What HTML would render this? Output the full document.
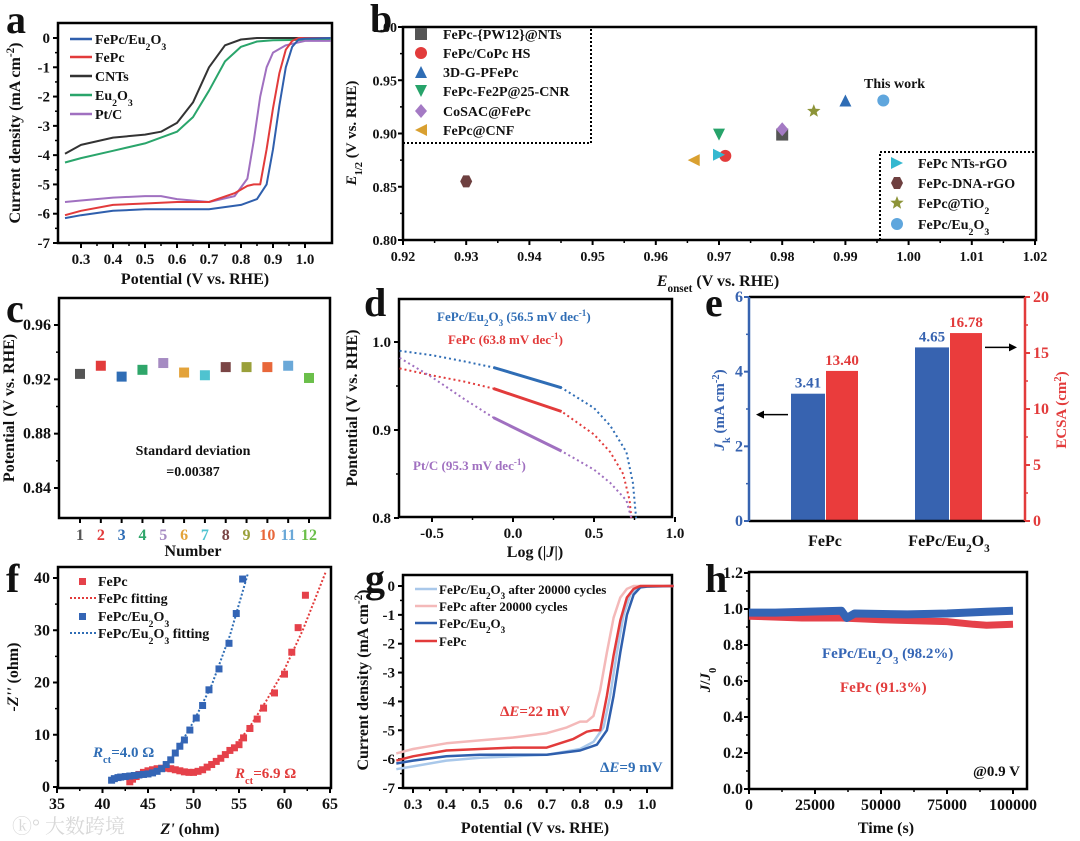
<!DOCTYPE html>
<html><head><meta charset="utf-8"><title>ORR performance figure</title>
<style>
html,body{margin:0;padding:0;background:#fff;}
svg{display:block;font-family:"Liberation Serif","Noto Serif CJK SC",serif;font-weight:bold;}
</style></head>
<body>
<svg id="fig" width="1080" height="841" viewBox="0 0 1080 841" xmlns="http://www.w3.org/2000/svg"></svg>
<script>
// ---------- DATA ----------
const aBlueV=[0.25,0.3,0.4,0.5,0.6,0.7,0.8,0.85,0.88,0.9,0.92,0.94,0.96,0.98,1.0,1.08];
const aBlueJ=[-6.15,-6.05,-5.9,-5.85,-5.85,-5.85,-5.7,-5.5,-5.0,-3.8,-2.3,-1.0,-0.3,-0.05,-0.02,0];
const aRedV=[0.25,0.3,0.4,0.5,0.6,0.7,0.78,0.82,0.84,0.86,0.88,0.9,0.92,0.94,0.96,0.98,1.08];
const aRedJ=[-6.05,-5.9,-5.7,-5.65,-5.6,-5.6,-5.3,-5.05,-5.0,-5.0,-3.8,-2.4,-1.2,-0.4,-0.1,0,0];
const aCntV=[0.25,0.3,0.4,0.5,0.55,0.6,0.65,0.7,0.75,0.8,0.85,1.08];
const aCntJ=[-3.95,-3.65,-3.4,-3.3,-3.2,-2.9,-2.2,-1.0,-0.25,-0.05,0,0];
const aEuV=[0.25,0.3,0.4,0.5,0.6,0.65,0.7,0.75,0.8,0.85,0.9,1.08];
const aEuJ=[-4.25,-4.1,-3.85,-3.6,-3.2,-2.7,-1.8,-0.8,-0.3,-0.12,-0.08,-0.05];
const aPtV=[0.25,0.3,0.4,0.5,0.55,0.6,0.7,0.78,0.82,0.84,0.86,0.88,0.9,0.94,1.0,1.08];
const aPtJ=[-5.6,-5.55,-5.45,-5.4,-5.4,-5.5,-5.6,-5.4,-4.8,-3.5,-2.0,-1.0,-0.5,-0.25,-0.1,-0.1];
const bNames=["FePc-{PW12}@NTs","FePc/CoPc HS","3D-G-PFePc","FePc-Fe2P@25-CNR","CoSAC@FePc","FePc@CNF","FePc NTs-rGO","FePc-DNA-rGO","FePc@TiO2","FePc/Eu2O3"];
const bOnset=[0.98,0.971,0.99,0.97,0.98,0.966,0.97,0.93,0.985,0.996];
const bHalf=[0.899,0.879,0.931,0.899,0.904,0.875,0.88,0.855,0.921,0.931];
const cNum=[1,2,3,4,5,6,7,8,9,10,11,12];
const cVal=[0.924,0.930,0.922,0.927,0.932,0.925,0.923,0.929,0.929,0.929,0.930,0.921];
const dBlueX=[-0.7,-0.5,-0.3,-0.12,0.3,0.5,0.6,0.7,0.74,0.76];
const dBlueY=[0.99,0.985,0.978,0.971,0.948,0.925,0.905,0.875,0.84,0.8];
const dRedX=[-0.7,-0.5,-0.3,-0.12,0.3,0.5,0.6,0.68,0.72,0.73];
const dRedY=[0.97,0.962,0.955,0.947,0.921,0.895,0.875,0.85,0.82,0.8];
const dPtX=[-0.7,-0.5,-0.3,-0.12,0.3,0.5,0.6,0.7,0.73];
const dPtY=[0.982,0.96,0.935,0.914,0.876,0.855,0.84,0.82,0.8];
const dFitRange=[-0.12,0.3];
const eCats=["FePc","FePc/Eu2O3"];
const eJk=[3.41,4.65];
const eEcsa=[13.40,16.78];
const fRedX=[43,43.3,43.7,44,44.5,45,45.5,46,46.5,47,47.5,48,48.5,49,49.5,50,50.5,51,51.5,52,52.5,53,53.5,54,54.5,55,55.5,56.2,57,57.7,58.9,60,60.8,61.5,62.3];
const fRedY=[1.0,1.5,2.0,2.4,2.8,3.1,3.3,3.5,3.6,3.6,3.5,3.3,3.1,2.9,2.8,2.8,3.0,3.3,3.8,4.3,4.9,5.5,6.2,7.0,7.5,8.1,9.4,11.2,13,15.1,18,21.6,25.8,30.5,36.7];
const fBlueX=[41,41.3,41.7,42,42.5,43,43.5,44,44.5,45,45.5,46,46.5,47,47.5,48,48.5,49,49.6,50.3,51,51.7,52.8,53.9,54.7,55.4];
const fBlueY=[1.3,1.6,1.8,1.9,2.0,2.1,2.2,2.3,2.4,2.5,2.7,3.0,3.5,4.3,5.2,6.5,7.8,9.0,10.9,13.2,15.6,18.6,22.6,27.5,33.2,39.8];
const fRedFitX=[43,45,47,49,50.5,52,54,56,58,60,62,64.5];
const fRedFitY=[1,3.2,3.6,3.0,2.9,4.0,6.8,11,16.5,22.5,30,41];
const fBlueFitX=[41,43,45,46.5,48,50,52,54,56];
const fBlueFitY=[1.3,2.1,2.6,3.4,6.5,12.5,19.5,29,41];
const gBlueV=aBlueV;
const gBlueJ=aBlueJ;
const gRedV=aRedV;
const gRedJ=aRedJ;
const gBlueAV=[0.25,0.3,0.4,0.5,0.6,0.7,0.8,0.84,0.87,0.89,0.91,0.93,0.95,0.97,0.99,1.08];
const gBlueAJ=[-6.35,-6.25,-6.05,-5.95,-5.9,-5.85,-5.65,-5.4,-4.9,-3.8,-2.3,-1.0,-0.3,-0.05,0,0];
const gRedAV=[0.25,0.3,0.4,0.5,0.6,0.7,0.76,0.8,0.82,0.84,0.86,0.88,0.9,0.92,0.94,0.96,1.08];
const gRedAJ=[-5.8,-5.65,-5.45,-5.35,-5.25,-5.1,-4.9,-4.7,-4.7,-4.5,-3.6,-2.3,-1.1,-0.4,-0.1,0,0];
const hBlueT=[0,10000,35000,37000,40000,60000,75000,90000,100000];
const hBlueR=[0.98,0.98,0.99,0.95,0.975,0.97,0.975,0.985,0.99];
const hRedT=[0,20000,35000,50000,75000,85000,90000,100000];
const hRedR=[0.96,0.95,0.95,0.94,0.93,0.915,0.91,0.915];

// ---------- HELPERS ----------
const NS='http://www.w3.org/2000/svg';
const svg=document.getElementById('fig');
function el(tag,attrs,name,parent){
  const e=document.createElementNS(NS,tag);
  for(const k in attrs) e.setAttribute(k,attrs[k]);
  
  
  (parent||svg).appendChild(e);
  return e;
}
function txt(x,y,html,name,o){
  o=o||{};
  const t=el('text',{x:x,y:y,'font-size':o.size||15,fill:o.fill||'#111','text-anchor':o.anchor||'start'},name);
  if(o.rot) t.setAttribute('transform','rotate('+o.rot+' '+x+' '+y+')');
  if(o.weight) t.setAttribute('font-weight',o.weight);
  t.innerHTML=html;
  return t;
}
const SUB=s=>'<tspan baseline-shift="sub" font-size="0.7em">'+s+'</tspan>';
const SUP=s=>'<tspan baseline-shift="super" font-size="0.7em">'+s+'</tspan>';
function lin(d0,d1,r0,r1){return v=>r0+(v-d0)*(r1-r0)/(d1-d0);}
function frame(p,b){el('rect',{x:b.x0,y:b.y0,width:b.x1-b.x0,height:b.y1-b.y0,fill:'none',stroke:'#000','stroke-width':2.5},p+'-plot-frame');}
function xAxis(p,b,sx,vals,labels,o){
  o=o||{};
  vals.forEach((v,i)=>{
    const x=sx(v);
    el('line',{x1:x,x2:x,y1:b.y1,y2:b.y1+5,stroke:'#000','stroke-width':2},p+'-x-tick');
    txt(x,b.y1+21,labels[i],p+'-x-tick-label',{anchor:'middle',size:o.size||15,fill:o.colors?o.colors[i]:'#111'});
    if(o.minor!==false && i<vals.length-1){const xm=sx((v+vals[i+1])/2);
      el('line',{x1:xm,x2:xm,y1:b.y1,y2:b.y1+3,stroke:'#000','stroke-width':1.5},p+'-x-minor-tick');}
  });
}
function yAxis(p,b,sy,vals,labels,o){
  o=o||{};
  const right=o.right; const x=right?b.x1:b.x0; const d=right?1:-1;
  vals.forEach((v,i)=>{
    const y=sy(v);
    el('line',{x1:x,x2:x+5*d,y1:y,y2:y,stroke:o.color||'#000','stroke-width':2},p+'-y-tick');
    txt(x+(o.gap||8)*d,y+5,labels[i],p+'-y-tick-label',{anchor:right?'start':'end',size:o.size||15,fill:o.color||'#111'});
    if(o.minor!==false && i<vals.length-1){const ym=sy((v+vals[i+1])/2);
      el('line',{x1:x,x2:x+3*d,y1:ym,y2:ym,stroke:o.color||'#000','stroke-width':1.5},p+'-y-minor-tick');}
  });
}
function path(xs,ys,sx,sy,attrs,name){
  let d='';
  xs.forEach((v,i)=>{d+=(i?'L':'M')+sx(v).toFixed(1)+','+sy(ys[i]).toFixed(1);});
  const a=Object.assign({d:d,fill:'none','stroke-linejoin':'round'},attrs);
  return el('path',a,name);
}
function range(a,b,s){const r=[];for(let v=a;v<=b+1e-9;v+=s)r.push(+v.toFixed(6));return r;}
function letter(x,y,s){txt(x,y,s,'panel-label-'+s,{size:40});}

const BLUE='#2f5fad', RED='#e23b3b', BLACK='#333', GREEN='#2aa56b', PURPLE='#a070c0';

// ---------- PANEL A ----------
(function(){
  const b={x0:58,x1:332,y0:23,y1:243};
  const sx=lin(0.3,1.0,81,305), sy=lin(0,-7,38,243);
  letter(6,33,'a');
  frame('a',b);
  const xv=range(0.3,1.0,0.1); xAxis('a',b,sx,xv,xv.map(v=>v.toFixed(1)));
  const yv=range(-7,0,1).reverse(); yAxis('a',b,sy,yv,yv.map(v=>String(v)));
  path(aCntV,aCntJ,sx,sy,{stroke:BLACK,'stroke-width':2},'a-cnts-curve');
  path(aEuV,aEuJ,sx,sy,{stroke:GREEN,'stroke-width':2},'a-eu2o3-curve');
  path(aPtV,aPtJ,sx,sy,{stroke:PURPLE,'stroke-width':2},'a-ptc-curve');
  path(aRedV,aRedJ,sx,sy,{stroke:RED,'stroke-width':2},'a-fepc-curve');
  path(aBlueV,aBlueJ,sx,sy,{stroke:BLUE,'stroke-width':2},'a-fepc-eu2o3-curve');
  const lg=[['FePc/Eu'+SUB('2')+'O'+SUB('3'),BLUE],['FePc',RED],['CNTs',BLACK],['Eu'+SUB('2')+'O'+SUB('3'),GREEN],['Pt/C',PURPLE]];
  const ly=[39,57,76,95,114];
  lg.forEach((e,i)=>{
    el('line',{x1:70,x2:92,y1:ly[i],y2:ly[i],stroke:e[1],'stroke-width':2.5},'a-legend-swatch');
    txt(95,ly[i]+5,e[0],'a-legend-entry',{size:14});
  });
  txt(195,284,'Potential (V vs. RHE)','a-x-axis-title',{anchor:'middle',size:16});
  txt(20,133,'Current density (mA cm'+SUP('-2')+')','a-y-axis-title',{anchor:'middle',size:16,rot:-90});
})();

// ---------- PANEL B ----------
(function(){
  const b={x0:403,x1:1036,y0:27,y1:240};
  const sx=lin(0.92,1.02,403,1035), sy=lin(0.8,1.0,240,27);
  letter(370,32,'b');
  frame('b',b);
  const xv=range(0.92,1.02,0.01); xAxis('b',b,sx,xv,xv.map(v=>v.toFixed(2)),{size:14});
  const yv=range(0.8,1.0,0.05); yAxis('b',b,sy,yv,yv.map(v=>v.toFixed(2)),{size:14,gap:6});
  const cols=['#555',RED,'#2f6db5','#27a36a','#a47ac4','#d9a030','#35b8d0','#6e4040','#8d9438','#5fa6dd'];
  function marker(x,y,i,name){
    const c=cols[i], s=6;
    if(i===0) el('rect',{x:x-s,y:y-s,width:2*s,height:2*s,fill:c},name);
    else if(i===1||i===9) el('circle',{cx:x,cy:y,r:s,fill:c},name);
    else if(i===2) el('polygon',{points:`${x},${y-s} ${x+s},${y+s} ${x-s},${y+s}`,fill:c},name);
    else if(i===3) el('polygon',{points:`${x-s},${y-s} ${x+s},${y-s} ${x},${y+s}`,fill:c},name);
    else if(i===4) el('polygon',{points:`${x},${y-s-1} ${x+s},${y} ${x},${y+s+1} ${x-s},${y}`,fill:c},name);
    else if(i===5) el('polygon',{points:`${x-s},${y} ${x+s},${y-s} ${x+s},${y+s}`,fill:c},name);
    else if(i===6) el('polygon',{points:`${x+s},${y} ${x-s},${y-s} ${x-s},${y+s}`,fill:c},name);
    else if(i===7) el('polygon',{points:`${x-s},${y} ${x-s/2},${y-s} ${x+s/2},${y-s} ${x+s},${y} ${x+s/2},${y+s} ${x-s/2},${y+s}`,fill:c},name);
    else if(i===8){let p='';for(let k=0;k<10;k++){const r=k%2?3:7,a=-Math.PI/2+k*Math.PI/5;p+=(x+r*Math.cos(a)).toFixed(1)+','+(y+r*Math.sin(a)).toFixed(1)+' ';}
      el('polygon',{points:p,fill:c},name);}
  }
  bOnset.forEach((v,i)=>marker(sx(v),sy(bHalf[i]),i,'b-point-'+bNames[i].toLowerCase().replace(/[^a-z0-9]+/g,'-')));
  el('path',{d:'M403,143 L591,143 L591,27',fill:'none',stroke:'#000','stroke-width':2,'stroke-dasharray':'2,2'},'b-legend-box-left');
  el('path',{d:'M880,240 L880,152 L1036,152',fill:'none',stroke:'#000','stroke-width':2,'stroke-dasharray':'2,2'},'b-legend-box-right');
  const lab=['FePc-{PW12}@NTs','FePc/CoPc HS','3D-G-PFePc','FePc-Fe2P@25-CNR','CoSAC@FePc','FePc@CNF','FePc NTs-rGO','FePc-DNA-rGO','FePc@TiO'+SUB('2'),'FePc/Eu'+SUB('2')+'O'+SUB('3')];
  const ly=[34,53,72,91,111,130,163,183,203,224];
  lab.forEach((s,i)=>{
    const mx=i<6?421:897, tx=i<6?443:918;
    marker(mx,ly[i],i,'b-legend-marker');
    txt(tx,ly[i]+5,s,'b-legend-entry',{size:14});
  });
  txt(864,88,'This work','b-this-work-label',{size:14});
  txt(718,286,'<tspan font-style="italic">E</tspan>'+SUB('onset')+' (V vs. RHE)','b-x-axis-title',{anchor:'middle',size:16});
  txt(356,133,'<tspan font-style="italic">E</tspan>'+SUB('1/2')+' (V vs. RHE)','b-y-axis-title',{anchor:'middle',size:15,rot:-90});
})();

// ---------- PANEL C ----------
(function(){
  const b={x0:59,x1:330,y0:298,y1:518};
  const sx=lin(1,12,80,309), sy=lin(0.84,0.96,488,325);
  letter(6,322,'c');
  frame('c',b);
  const cols=['#555',RED,'#2f6db5','#2fa66a','#a58bc2','#e3a33a','#4fc3d0','#7a4545','#9aa03a','#e8673a','#6aa8d8','#6bbf4a'];
  cNum.forEach((n,i)=>{
    const x=sx(n);
    el('line',{x1:x,x2:x,y1:b.y1,y2:b.y1+5,stroke:'#000','stroke-width':2},'c-x-tick');
    txt(x,b.y1+22,String(n),'c-x-tick-label',{anchor:'middle',size:16,fill:cols[i]});
  });
  const yv=range(0.84,0.96,0.04); yAxis('c',b,sy,yv,yv.map(v=>v.toFixed(2)),{size:16});
  cNum.forEach((n,i)=>el('rect',{x:sx(n)-5,y:sy(cVal[i])-5,width:10,height:10,fill:cols[i]},'c-point-'+n));
  txt(193,455,'Standard deviation','c-std-label',{anchor:'middle',size:14});
  txt(193,476,'=0.00387','c-std-value',{anchor:'middle',size:14});
  txt(193,556,'Number','c-x-axis-title',{anchor:'middle',size:16});
  txt(14,408,'Potential (V vs. RHE)','c-y-axis-title',{anchor:'middle',size:16,rot:-90});
})();

// ---------- PANEL D ----------
(function(){
  const b={x0:399,x1:672,y0:299,y1:517};
  const sx=lin(0,0.5,513,594), sy=lin(0.8,1.0,518,342);
  letter(364,316,'d');
  frame('d',b);
  const xv=[-0.5,0,0.5,1.0]; xAxis('d',b,sx,xv,xv.map(v=>v.toFixed(1)));
  const yv=[0.8,0.9,1.0]; yAxis('d',b,sy,yv,yv.map(v=>v.toFixed(1)));
  const ser=[[dBlueX,dBlueY,'#2f6db5','blue'],[dRedX,dRedY,RED,'red'],[dPtX,dPtY,PURPLE,'ptc']];
  ser.forEach(s=>{
    path(s[0],s[1],sx,sy,{stroke:s[2],'stroke-width':2,'stroke-dasharray':'2,3'},'d-'+s[3]+'-tafel-dotted');
    const i0=s[0].indexOf(dFitRange[0]), i1=s[0].indexOf(dFitRange[1]);
    path(s[0].slice(i0,i1+1),s[1].slice(i0,i1+1),sx,sy,{stroke:s[2],'stroke-width':3},'d-'+s[3]+'-tafel-fit');
  });
  txt(437,321,'FePc/Eu'+SUB('2')+'O'+SUB('3')+' (56.5 mV dec'+SUP('-1')+')','d-fepc-eu2o3-slope',{size:13,fill:'#2f6db5'});
  txt(448,344,'FePc (63.8 mV dec'+SUP('-1')+')','d-fepc-slope',{size:13,fill:RED});
  txt(413,470,'Pt/C (95.3 mV dec'+SUP('-1')+')','d-ptc-slope',{size:13,fill:PURPLE});
  txt(535,557,'Log (|<tspan font-style="italic">J</tspan>|)','d-x-axis-title',{anchor:'middle',size:16});
  txt(357,408,'Pontential (V vs. RHE)','d-y-axis-title',{anchor:'middle',size:16,rot:-90});
})();

// ---------- PANEL E ----------
(function(){
  const b={x0:749,x1:1025,y0:297,y1:521};
  const yl=lin(0,6,521,297), yr=lin(0,20,521,297);
  const centers=[825,949];
  letter(705,316,'e');
  eCats.forEach((c,i)=>{
    const xb=centers[i]-34, xr=centers[i]+1;
    el('rect',{x:xb,y:yl(eJk[i]),width:34,height:yl(0)-yl(eJk[i]),fill:'#3763b0'},'e-bar-jk-'+(i?'fepc-eu2o3':'fepc'));
    el('rect',{x:xr,y:yr(eEcsa[i]),width:32,height:yr(0)-yr(eEcsa[i]),fill:'#ea3c3c'},'e-bar-ecsa-'+(i?'fepc-eu2o3':'fepc'));
    txt(xb+17,yl(eJk[i])-6,eJk[i].toFixed(2),'e-value-jk',{anchor:'middle',size:15,fill:'#3763b0'});
    txt(xr+16,yr(eEcsa[i])-6,eEcsa[i].toFixed(2),'e-value-ecsa',{anchor:'middle',size:15,fill:RED});
  });
  el('line',{x1:b.x0,x2:b.x1,y1:b.y0,y2:b.y0,stroke:'#000','stroke-width':2.5},'e-top-axis');
  el('line',{x1:b.x0,x2:b.x1,y1:b.y1,y2:b.y1,stroke:'#000','stroke-width':2.5},'e-bottom-axis');
  el('line',{x1:b.x0,x2:b.x0,y1:b.y0,y2:b.y1,stroke:'#3763b0','stroke-width':2.5},'e-left-axis');
  el('line',{x1:b.x1,x2:b.x1,y1:b.y0,y2:b.y1,stroke:RED,'stroke-width':2.5},'e-right-axis');
  const lv=[0,2,4,6]; yAxis('e',b,yl,lv,lv.map(String),{color:'#3763b0',size:16,gap:6});
  const rv=[0,5,10,15,20]; yAxis('e-right',b,yr,rv,rv.map(String),{color:RED,right:true,size:16});
  eCats.forEach((c,i)=>txt(centers[i],b.y1+25,i?'FePc/Eu'+SUB('2')+'O'+SUB('3'):'FePc','e-category-label',{anchor:'middle',size:16}));
  el('line',{x1:788,x2:760,y1:yl(2.85),y2:yl(2.85),stroke:'#000','stroke-width':1.5},'e-left-arrow');
  el('polygon',{points:`756,${yl(2.85)} 764,${yl(2.85)-4} 764,${yl(2.85)+4}`,fill:'#000'},'e-left-arrowhead');
  el('line',{x1:985,x2:1012,y1:yr(15.5),y2:yr(15.5),stroke:'#000','stroke-width':1.5},'e-right-arrow');
  el('polygon',{points:`1017,${yr(15.5)} 1009,${yr(15.5)-4} 1009,${yr(15.5)+4}`,fill:'#000'},'e-right-arrowhead');
  txt(724,410,'<tspan font-style="italic">J</tspan>'+SUB('k')+' (mA cm'+SUP('-2')+')','e-y-axis-title-left',{anchor:'middle',size:15,rot:-90,fill:'#3763b0'});
  txt(1066,410,'ECSA (cm'+SUP('2')+')','e-y-axis-title-right',{anchor:'middle',size:15,rot:-90,fill:RED});
})();

// ---------- PANEL F ----------
(function(){
  const b={x0:58,x1:331,y0:567,y1:788};
  const sx=lin(35,65,57,330), sy=lin(0,40,787,578);
  letter(6,592,'f');
  frame('f',b);
  const xv=range(35,65,5); xAxis('f',b,sx,xv,xv.map(String),{size:16});
  const yv=range(0,40,10); yAxis('f',b,sy,yv,yv.map(String),{size:16});
  const cl=el('clipPath',{id:'fclip'},'f-clip');
  el('rect',{x:b.x0,y:b.y0,width:b.x1-b.x0,height:b.y1-b.y0},'f-clip-rect',cl);
  path(fRedFitX,fRedFitY,sx,sy,{stroke:RED,'stroke-width':2,'stroke-dasharray':'2,2','clip-path':'url(#fclip)'},'f-fepc-fit');
  path(fBlueFitX,fBlueFitY,sx,sy,{stroke:'#2f6db5','stroke-width':2,'stroke-dasharray':'2,2','clip-path':'url(#fclip)'},'f-fepc-eu2o3-fit');
  fRedX.forEach((v,i)=>el('rect',{x:sx(v)-3.5,y:sy(fRedY[i])-3.5,width:7,height:7,fill:'#e5414a'},'f-fepc-point'));
  fBlueX.forEach((v,i)=>el('rect',{x:sx(v)-3.5,y:sy(fBlueY[i])-3.5,width:7,height:7,fill:'#3465b5'},'f-fepc-eu2o3-point'));
  el('rect',{x:79,y:578,width:7,height:7,fill:'#e5414a'},'f-legend-marker');
  el('line',{x1:70,x2:96,y1:598,y2:598,stroke:RED,'stroke-width':2,'stroke-dasharray':'2,2'},'f-legend-line');
  el('rect',{x:79,y:613,width:7,height:7,fill:'#3465b5'},'f-legend-marker');
  el('line',{x1:70,x2:96,y1:633,y2:633,stroke:'#2f6db5','stroke-width':2,'stroke-dasharray':'2,2'},'f-legend-line');
  txt(98,586,'FePc','f-legend-entry',{size:14});
  txt(98,603,'FePc fitting','f-legend-entry',{size:14});
  txt(98,621,'FePc/Eu'+SUB('2')+'O'+SUB('3'),'f-legend-entry',{size:14});
  txt(98,638,'FePc/Eu'+SUB('2')+'O'+SUB('3')+' fitting','f-legend-entry',{size:14});
  txt(93,757,'<tspan font-style="italic">R</tspan>'+SUB('ct')+'=4.0 Ω','f-rct-blue',{size:15,fill:'#2f6db5'});
  txt(235,778,'<tspan font-style="italic">R</tspan>'+SUB('ct')+'=6.9 Ω','f-rct-red',{size:15,fill:RED});
  txt(190,834,'<tspan font-style="italic">Z\'</tspan> (ohm)','f-x-axis-title',{anchor:'middle',size:16});
  txt(18,677,'<tspan font-style="italic">-Z\'\'</tspan> (ohm)','f-y-axis-title',{anchor:'middle',size:16,rot:-90});
  txt(12,833,'ⓚ° 大数跨境','watermark',{size:20,fill:'#d8d8d8',weight:'normal'});
})();

// ---------- PANEL G ----------
(function(){
  const b={x0:403,x1:672,y0:575,y1:788};
  const sx=lin(0.3,1.0,413,647), sy=lin(0,-7,586,788);
  letter(365,592,'g');
  frame('g',b);
  const xv=range(0.3,1.0,0.1); xAxis('g',b,sx,xv,xv.map(v=>v.toFixed(1)));
  const yv=range(-7,0,1).reverse(); yAxis('g',b,sy,yv,yv.map(String));
  path(gBlueAV,gBlueAJ,sx,sy,{stroke:'#a9c8ea','stroke-width':2.5},'g-fepc-eu2o3-after-curve');
  path(gRedAV,gRedAJ,sx,sy,{stroke:'#f4b9b9','stroke-width':2.5},'g-fepc-after-curve');
  path(gBlueV,gBlueJ,sx,sy,{stroke:BLUE,'stroke-width':2.5},'g-fepc-eu2o3-curve');
  path(gRedV,gRedJ,sx,sy,{stroke:RED,'stroke-width':2.5},'g-fepc-curve');
  const lg=[['FePc/Eu'+SUB('2')+'O'+SUB('3')+' after 20000 cycles','#a9c8ea'],['FePc after 20000 cycles','#f4b9b9'],['FePc/Eu'+SUB('2')+'O'+SUB('3'),BLUE],['FePc',RED]];
  const ly=[589,606,623,641];
  lg.forEach((e,i)=>{
    el('line',{x1:415,x2:437,y1:ly[i],y2:ly[i],stroke:e[1],'stroke-width':2.5},'g-legend-swatch');
    txt(439,ly[i]+5,e[0],'g-legend-entry',{size:13});
  });
  txt(500,716,'Δ<tspan font-style="italic">E</tspan>=22 mV','g-delta-e-red',{size:15,fill:RED});
  txt(600,772,'Δ<tspan font-style="italic">E</tspan>=9 mV','g-delta-e-blue',{size:15,fill:'#2f6db5'});
  txt(535,833,'Potential (V vs. RHE)','g-x-axis-title',{anchor:'middle',size:16});
  txt(368,680,'Current density (mA cm'+SUP('-2')+')','g-y-axis-title',{anchor:'middle',size:16,rot:-90});
})();

// ---------- PANEL H ----------
(function(){
  const b={x0:749,x1:1027,y0:572,y1:789};
  const sx=lin(0,100000,749,1013), sy=lin(0,1.2,789,573);
  letter(705,592,'h');
  frame('h',b);
  const xv=[0,25000,50000,75000,100000]; xAxis('h',b,sx,xv,xv.map(String),{size:16});
  const yv=range(0,1.2,0.2); yAxis('h',b,sy,yv,yv.map(v=>v.toFixed(1)),{size:16,gap:6});
  path(hRedT,hRedR,sx,sy,{stroke:'#e5414a','stroke-width':7},'h-fepc-curve');
  path(hBlueT,hBlueR,sx,sy,{stroke:'#3465b5','stroke-width':8},'h-fepc-eu2o3-curve');
  txt(822,658,'FePc/Eu'+SUB('2')+'O'+SUB('3')+' (98.2%)','h-fepc-eu2o3-label',{size:15,fill:'#3465b5'});
  txt(840,692,'FePc (91.3%)','h-fepc-label',{size:15,fill:RED});
  txt(1020,776,'@0.9 V','h-potential-note',{anchor:'end',size:15});
  txt(886,833,'Time (s)','h-x-axis-title',{anchor:'middle',size:16});
  txt(710,680,'<tspan font-style="italic">J</tspan>/<tspan font-style="italic">J</tspan>'+SUB('0'),'h-y-axis-title',{anchor:'middle',size:15,rot:-90});
})();
</script>
</body></html>
